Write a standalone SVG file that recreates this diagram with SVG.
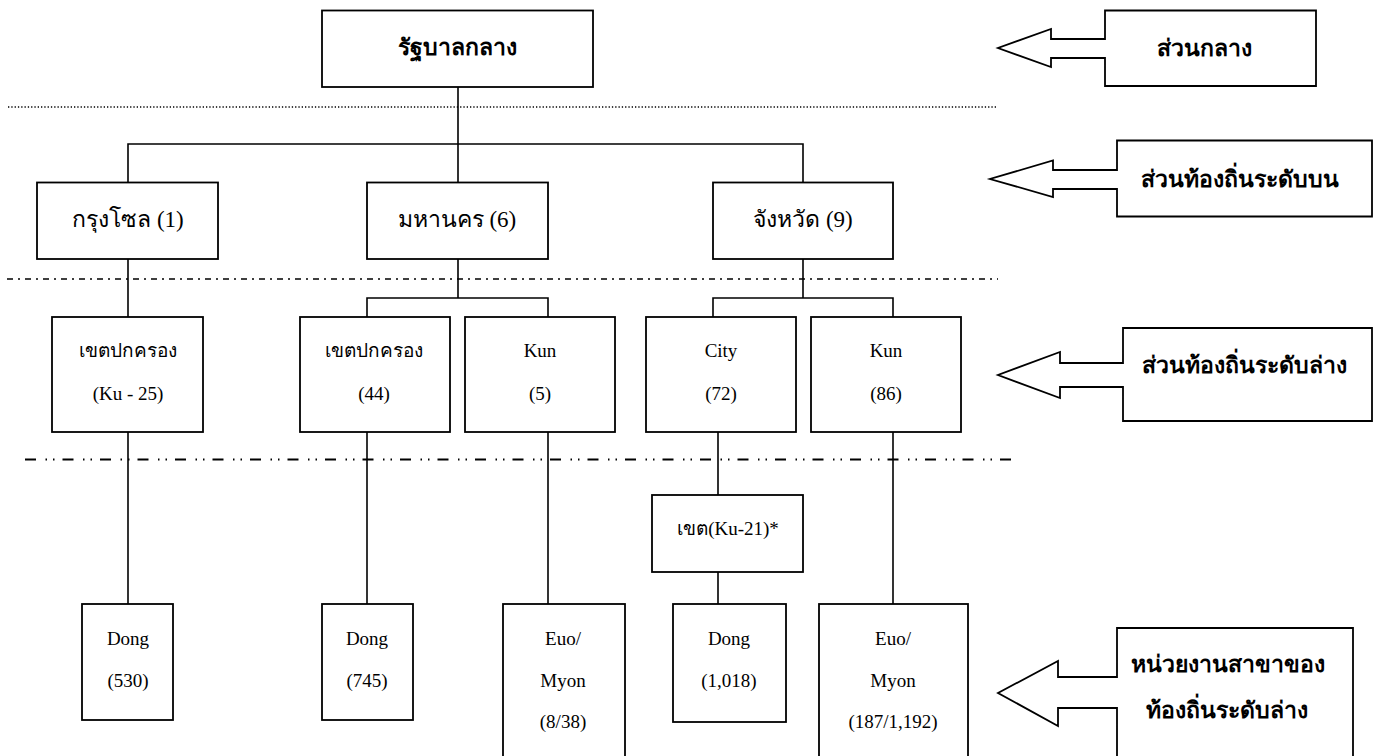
<svg xmlns="http://www.w3.org/2000/svg" width="1380" height="756" viewBox="0 0 1380 756">
<style>
.box{fill:#fff;stroke:#000;stroke-width:1.8}
.ln{fill:none;stroke:#000;stroke-width:1.6}
.t{font-family:"Liberation Serif","Noto Sans",serif;fill:#000;text-anchor:middle}
.l2{font-size:23px}
.l3{font-size:19px}
.b{font-weight:bold;font-size:23px}
</style>
<rect width="1380" height="756" fill="#fff"/>
<g id="separators">
<line x1="8" y1="107" x2="998" y2="107" stroke="#000" stroke-width="1.3" stroke-dasharray="1.3 2"/>
<line x1="7" y1="279" x2="998" y2="279" stroke="#000" stroke-width="1.5" stroke-dasharray="6 5 2 5"/>
<line x1="25" y1="459.5" x2="1012" y2="459.5" stroke="#000" stroke-width="1.8" stroke-dasharray="11 9.5 1.5 6 1.5 8"/>
</g>
<g id="connectors" class="ln">
<path d="M458 87V182M128 182V144H803V182"/>
<path d="M128 259V317"/>
<path d="M458 259V298M367 317V298H548V317"/>
<path d="M803 259V298M713 317V298H893V317"/>
<path d="M128 432V604"/>
<path d="M367 432V604"/>
<path d="M548 432V604"/>
<path d="M718 432V495M718 572V604"/>
<path d="M893 432V604"/>
</g>
<g id="n-central"><rect class="box" x="322" y="10.5" width="271" height="76.5"/><text class="t b" x="457" y="55">รัฐบาลกลาง</text></g>
<g id="n-seoul"><rect class="box" x="37" y="182.5" width="181" height="76.5"/><text class="t l2" x="128" y="227">กรุงโซล (1)</text></g>
<g id="n-metro"><rect class="box" x="367" y="182.5" width="181" height="76.5"/><text class="t l2" x="457" y="227">มหานคร (6)</text></g>
<g id="n-province"><rect class="box" x="713" y="182.5" width="180" height="76.5"/><text class="t l2" x="803" y="227">จังหวัด (9)</text></g>
<g id="n-ku25"><rect class="box" x="52" y="317" width="151" height="115"/><text class="t l3" x="128" y="357">เขตปกครอง</text><text class="t l3" x="128" y="400">(Ku - 25)</text></g>
<g id="n-ku44"><rect class="box" x="300" y="317" width="150" height="115"/><text class="t l3" x="374" y="357">เขตปกครอง</text><text class="t l3" x="374" y="400">(44)</text></g>
<g id="n-kun5"><rect class="box" x="465" y="317" width="150" height="115"/><text class="t l3" x="540" y="357">Kun</text><text class="t l3" x="540" y="400">(5)</text></g>
<g id="n-city"><rect class="box" x="646" y="317" width="150" height="115"/><text class="t l3" x="721" y="357">City</text><text class="t l3" x="721" y="400">(72)</text></g>
<g id="n-kun86"><rect class="box" x="811" y="317" width="150" height="115"/><text class="t l3" x="886" y="357">Kun</text><text class="t l3" x="886" y="400">(86)</text></g>
<g id="n-ku21"><rect class="box" x="652" y="495" width="151" height="77"/><text class="t l3" x="728" y="535">เขต(Ku-21)*</text></g>
<g id="n-dong530"><rect class="box" x="82" y="604" width="91" height="116"/><text class="t l3" x="128" y="645">Dong</text><text class="t l3" x="128" y="687">(530)</text></g>
<g id="n-dong745"><rect class="box" x="322" y="604" width="91" height="116"/><text class="t l3" x="367" y="645">Dong</text><text class="t l3" x="367" y="687">(745)</text></g>
<g id="n-euo838"><rect class="box" x="503" y="604" width="122" height="170"/><text class="t l3" x="563" y="645">Euo/</text><text class="t l3" x="563" y="687">Myon</text><text class="t l3" x="563" y="728">(8/38)</text></g>
<g id="n-dong1018"><rect class="box" x="673" y="604" width="113" height="118"/><text class="t l3" x="729" y="645">Dong</text><text class="t l3" x="729" y="687">(1,018)</text></g>
<g id="n-euo187"><rect class="box" x="819" y="604" width="149" height="170"/><text class="t l3" x="893" y="645">Euo/</text><text class="t l3" x="893" y="687">Myon</text><text class="t l3" x="893" y="728">(187/1,192)</text></g>
<g id="c-central"><path class="box" d="M1105 10.5H1316V86H1105V58H1051V67L998 48L1051 29V39H1105Z"/><text class="t b" x="1204" y="56">ส่วนกลาง</text></g>
<g id="c-upper"><path class="box" d="M1117 140.5H1372V216.5H1117V189H1053V197L990 179L1053 160.5V170H1117Z"/><text class="t b" x="1240" y="187">ส่วนท้องถิ่นระดับบน</text></g>
<g id="c-lower"><path class="box" d="M1123 328H1372V421H1123V387H1060V398L998 375L1060 352V363H1123Z"/><text class="t b" x="1244" y="373">ส่วนท้องถิ่นระดับล่าง</text></g>
<g id="c-branch"><path class="box" d="M1117 628H1353V770H1117V708H1058V726L998 693L1058 661V677H1117Z"/><text class="t b" x="1228" y="672">หน่วยงานสาขาของ</text><text class="t b" x="1227" y="718">ท้องถิ่นระดับล่าง</text></g>
</svg>
